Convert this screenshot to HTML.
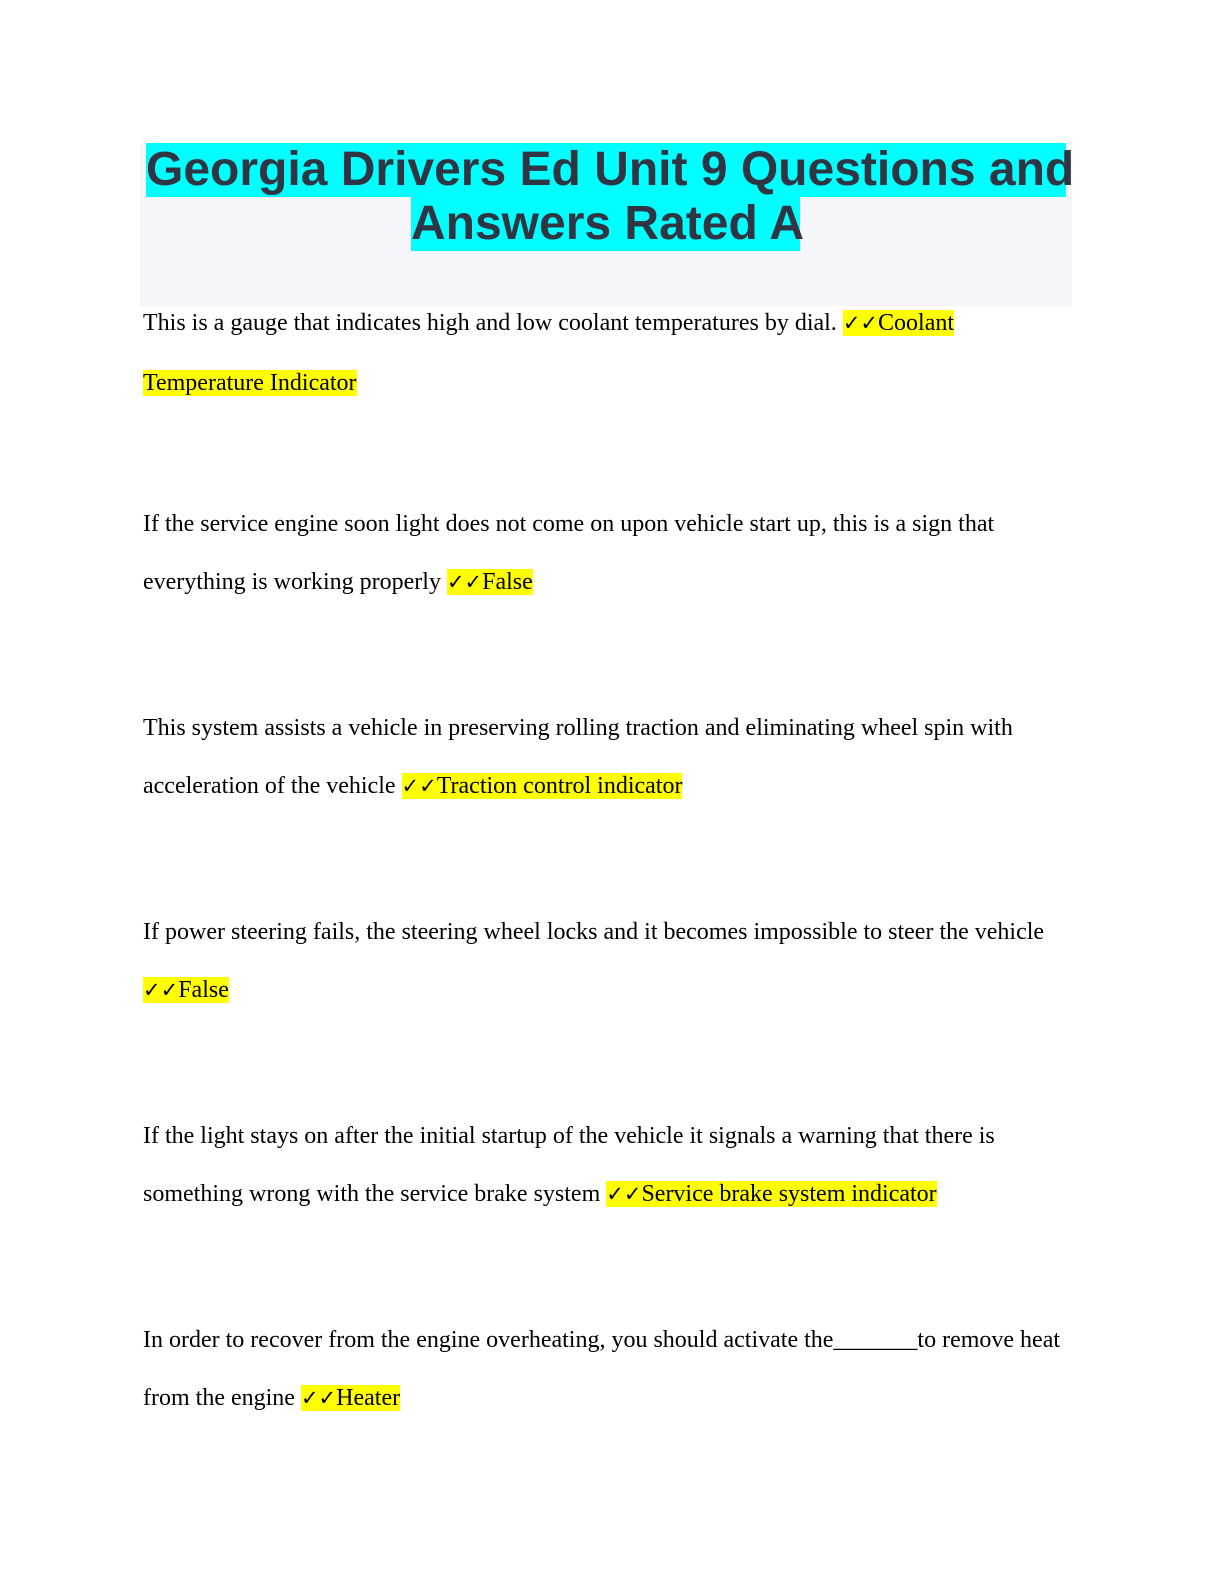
<!DOCTYPE html>
<html><head><meta charset="utf-8"><style>
body{margin:0;width:1224px;height:1584px;background:#fff;position:relative;overflow:hidden}
.box{position:absolute;left:140px;top:143px;width:932px;height:163px;background:#f5f6fa}
.t{position:absolute;font-family:"Liberation Sans",sans-serif;font-weight:bold;font-size:48px;line-height:54px;color:#2f3542;background:#00ffff;white-space:nowrap}
.l{position:absolute;left:143px;font-family:"Liberation Serif",serif;font-size:24px;line-height:31px;color:#000;white-space:nowrap}
.h{background:#ffff00}
.c{font-family:"DejaVu Sans",sans-serif;font-size:21px;font-weight:bold}
</style></head><body>
<div class="box"></div>
<div class="t" style="left:146px;top:143px;width:920px;text-align:center">Georgia Drivers Ed Unit 9 Questions and</div>
<div class="t" style="left:411px;top:197px;width:389px;text-align:center">Answers Rated A</div>

<div class="l" style="top:308px">This is a gauge that indicates high and low coolant temperatures by dial. <span class="h"><span class="c">✓✓</span>Coolant</span></div>
<div class="l" style="top:368px"><span class="h">Temperature Indicator</span></div>

<div class="l" style="top:509px">If the service engine soon light does not come on upon vehicle start up, this is a sign that</div>
<div class="l" style="top:567px">everything is working properly <span class="h"><span class="c">✓✓</span>False</span></div>

<div class="l" style="top:713px">This system assists a vehicle in preserving rolling traction and eliminating wheel spin with</div>
<div class="l" style="top:771px">acceleration of the vehicle <span class="h"><span class="c">✓✓</span>Traction control indicator</span></div>

<div class="l" style="top:917px">If power steering fails, the steering wheel locks and it becomes impossible to steer the vehicle</div>
<div class="l" style="top:975px"><span class="h"><span class="c">✓✓</span>False</span></div>

<div class="l" style="top:1121px">If the light stays on after the initial startup of the vehicle it signals a warning that there is</div>
<div class="l" style="top:1179px">something wrong with the service brake system <span class="h"><span class="c">✓✓</span>Service brake system indicator</span></div>

<div class="l" style="top:1325px">In order to recover from the engine overheating, you should activate the_______to remove heat</div>
<div class="l" style="top:1383px">from the engine <span class="h"><span class="c">✓✓</span>Heater</span></div>
</body></html>
